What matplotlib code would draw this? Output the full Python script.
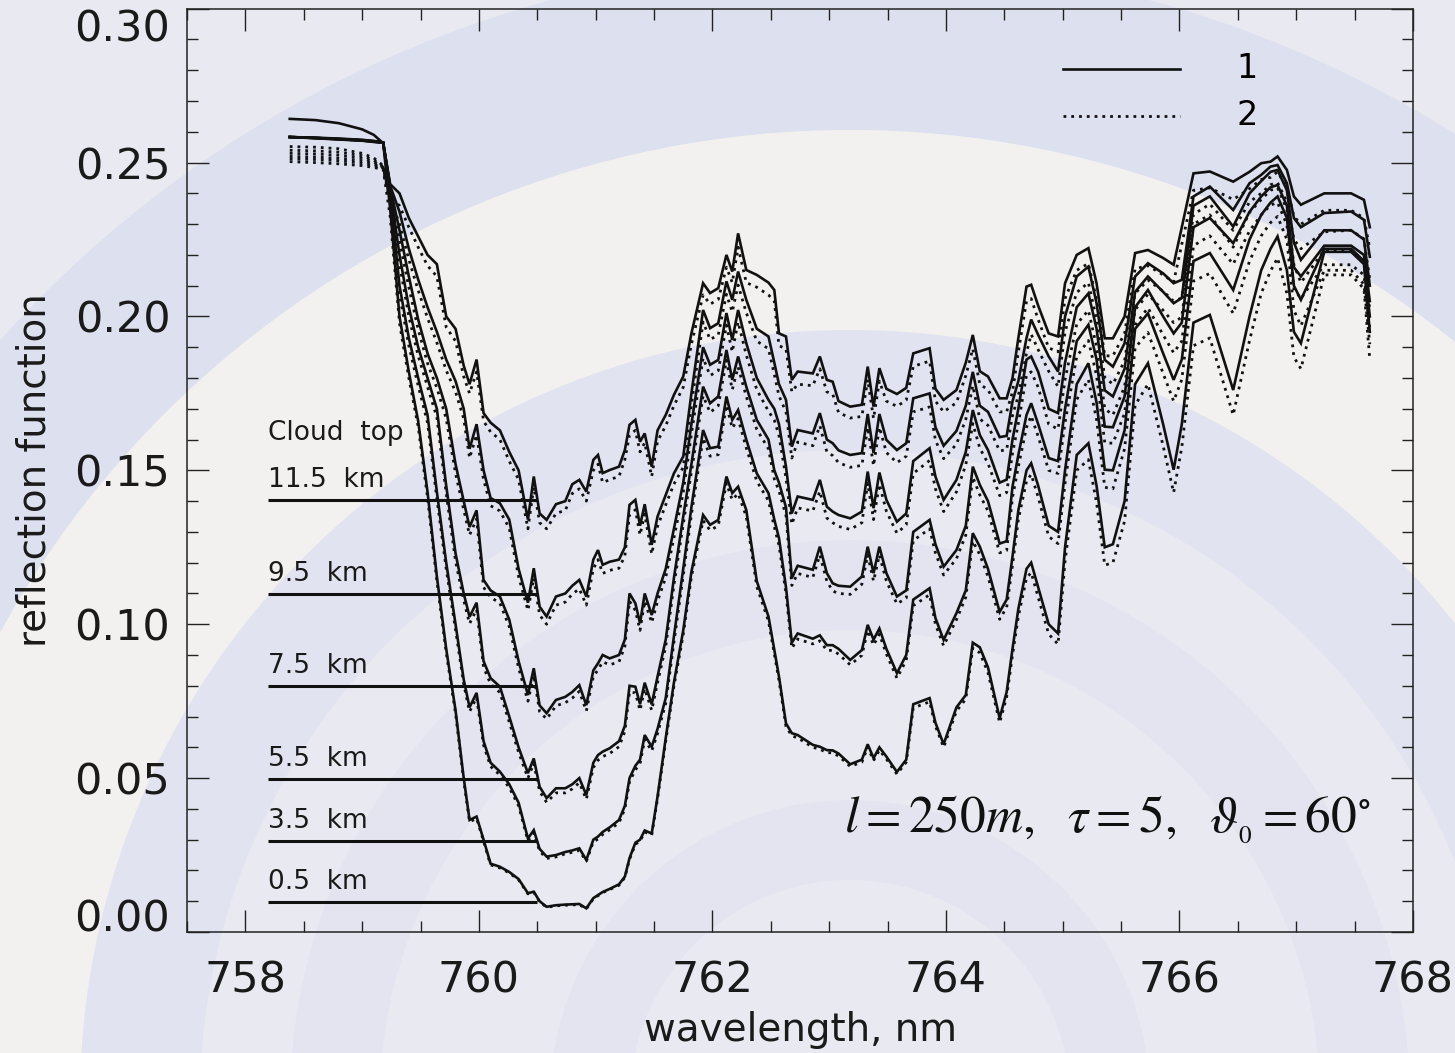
import matplotlib
matplotlib.use("Agg")
import matplotlib.pyplot as plt
from matplotlib.patches import Wedge
from matplotlib.ticker import MultipleLocator
import numpy as np

plt.rcParams["font.family"] = ["DejaVu Sans"]
plt.rcParams["mathtext.fontset"] = "stix"

# wavelength grid, nm
wavelength = [758.38, 758.60, 758.80, 759.00, 759.10, 759.18,
              759.24, 759.32, 759.40, 759.48, 759.56, 759.64, 759.72, 759.80, 759.87, 759.92, 759.98,
              760.04, 760.10, 760.18, 760.26, 760.34, 760.42, 760.47, 760.52, 760.58, 760.66,
              760.74, 760.80, 760.86, 760.92, 760.98, 761.02, 761.06, 761.12, 761.20, 761.25,
              761.29, 761.34, 761.38, 761.42, 761.48, 761.53,
              761.60, 761.67, 761.75, 761.82, 761.92, 761.98, 762.05, 762.12, 762.17, 762.22, 762.29,
              762.38, 762.48, 762.53, 762.57, 762.63, 762.68, 762.73, 762.86, 762.92, 762.98,
              763.03, 763.08, 763.18, 763.28, 763.33, 763.38, 763.43, 763.49, 763.58, 763.66, 763.72,
              763.86, 763.91, 763.98, 764.09, 764.17, 764.23, 764.29, 764.36, 764.46, 764.52, 764.57,
              764.62, 764.69, 764.73, 764.79, 764.88, 764.96, 765.02, 765.12, 765.22, 765.29, 765.36,
              765.43, 765.53, 765.62, 765.73, 765.86, 765.95, 766.02, 766.12, 766.26, 766.46, 766.60,
              766.70, 766.78, 766.84, 766.92, 766.98, 767.04, 767.24, 767.47, 767.58, 767.63]

# model 1 (solid), cloud top 11.5 / 9.5 / 7.5 / 5.5 / 3.5 / 0.5 km
sol_115 = [0.2642, 0.2638, 0.2628, 0.2608, 0.2590, 0.2563,
           0.2430, 0.2400, 0.2320, 0.2260, 0.2200, 0.2170, 0.2000, 0.1960, 0.1840, 0.1780, 0.1860,
           0.1686, 0.1655, 0.1630, 0.1560, 0.1500, 0.1340, 0.1480, 0.1360, 0.1339, 0.1390,
           0.1400, 0.1455, 0.1469, 0.1431, 0.1534, 0.1550, 0.1491, 0.1501, 0.1512, 0.1566,
           0.1648, 0.1664, 0.1593, 0.1620, 0.1512, 0.1630,
           0.1680, 0.1745, 0.1805, 0.1945, 0.2108, 0.2076, 0.2092, 0.2200, 0.2146, 0.2270, 0.2151,
           0.2135, 0.2110, 0.2086, 0.1945, 0.1935, 0.1794, 0.1821, 0.1815, 0.1870, 0.1794,
           0.1788, 0.1725, 0.1707, 0.1713, 0.1837, 0.1707, 0.1832, 0.1765, 0.1748, 0.1768, 0.1880,
           0.1897, 0.1765, 0.1729, 0.1761, 0.1850, 0.1940, 0.1822, 0.1805, 0.1734, 0.1734, 0.1800,
           0.1930, 0.2097, 0.2103, 0.2035, 0.1945, 0.1935, 0.2108, 0.2200, 0.2222, 0.2108, 0.1929,
           0.1929, 0.2000, 0.2206, 0.2216, 0.2190, 0.2168, 0.2290, 0.2465, 0.2471, 0.2438, 0.2470,
           0.2498, 0.2503, 0.2520, 0.2476, 0.2390, 0.2363, 0.2400, 0.2400, 0.2379, 0.2290]
sol_95 = [0.2583, 0.2581, 0.2578, 0.2574, 0.2570, 0.2565,
          0.2425, 0.2340, 0.2220, 0.2120, 0.2030, 0.1950, 0.1860, 0.1790, 0.1700, 0.1570, 0.1650,
          0.1500, 0.1410, 0.1393, 0.1340, 0.1180, 0.1070, 0.1182, 0.1057, 0.1025, 0.1090,
          0.1100, 0.1125, 0.1144, 0.1090, 0.1210, 0.1241, 0.1193, 0.1203, 0.1210, 0.1250,
          0.1388, 0.1404, 0.1320, 0.1390, 0.1258, 0.1350,
          0.1420, 0.1490, 0.1545, 0.1750, 0.2021, 0.1962, 0.1978, 0.2114, 0.2054, 0.2146, 0.2054,
          0.1960, 0.1935, 0.1850, 0.1780, 0.1729, 0.1577, 0.1631, 0.1620, 0.1686, 0.1600,
          0.1588, 0.1565, 0.1550, 0.1556, 0.1683, 0.1556, 0.1683, 0.1599, 0.1566, 0.1588, 0.1734,
          0.1750, 0.1640, 0.1580, 0.1628, 0.1710, 0.1820, 0.1710, 0.1690, 0.1608, 0.1612, 0.1724,
          0.1790, 0.1930, 0.1990, 0.1940, 0.1870, 0.1821, 0.2000, 0.2130, 0.2162, 0.2043, 0.1859,
          0.1837, 0.1913, 0.2130, 0.2173, 0.2140, 0.2108, 0.2119, 0.2390, 0.2422, 0.2346, 0.2433,
          0.2460, 0.2487, 0.2492, 0.2433, 0.2320, 0.2290, 0.2336, 0.2341, 0.2314, 0.2194]
sol_75 = [0.2583, 0.2580, 0.2577, 0.2573, 0.2570, 0.2565,
          0.2420, 0.2280, 0.2130, 0.1990, 0.1880, 0.1800, 0.1700, 0.1520, 0.1400, 0.1316, 0.1370,
          0.1144, 0.1110, 0.1090, 0.1015, 0.0880, 0.0770, 0.0857, 0.0736, 0.0711, 0.0754,
          0.0764, 0.0780, 0.0802, 0.0737, 0.0850, 0.0873, 0.0900, 0.0889, 0.0900, 0.0950,
          0.1100, 0.1068, 0.1003, 0.1100, 0.1030, 0.1100,
          0.1180, 0.1310, 0.1460, 0.1650, 0.1900, 0.1843, 0.1859, 0.2011, 0.1924, 0.2021, 0.1913,
          0.1800, 0.1729, 0.1700, 0.1650, 0.1512, 0.1360, 0.1415, 0.1404, 0.1469, 0.1382,
          0.1366, 0.1355, 0.1344, 0.1366, 0.1496, 0.1377, 0.1493, 0.1404, 0.1333, 0.1360, 0.1530,
          0.1572, 0.1480, 0.1404, 0.1469, 0.1560, 0.1696, 0.1615, 0.1566, 0.1460, 0.1470, 0.1600,
          0.1700, 0.1860, 0.1870, 0.1820, 0.1700, 0.1686, 0.1850, 0.2030, 0.2075, 0.1960, 0.1760,
          0.1740, 0.1830, 0.2080, 0.2130, 0.2080, 0.2043, 0.2060, 0.2360, 0.2390, 0.2292, 0.2400,
          0.2440, 0.2470, 0.2476, 0.2410, 0.2240, 0.2184, 0.2280, 0.2280, 0.2250, 0.2100]
sol_55 = [0.2583, 0.2580, 0.2576, 0.2572, 0.2568, 0.2565,
          0.2410, 0.2200, 0.2030, 0.1900, 0.1800, 0.1700, 0.1450, 0.1230, 0.1100, 0.1024, 0.1070,
          0.0880, 0.0825, 0.0797, 0.0700, 0.0600, 0.0516, 0.0564, 0.0472, 0.0435, 0.0467,
          0.0467, 0.0480, 0.0500, 0.0445, 0.0550, 0.0575, 0.0586, 0.0597, 0.0620, 0.0670,
          0.0800, 0.0797, 0.0740, 0.0810, 0.0740, 0.0830,
          0.0950, 0.1150, 0.1350, 0.1520, 0.1772, 0.1718, 0.1740, 0.1891, 0.1794, 0.1870, 0.1772,
          0.1664, 0.1600, 0.1500, 0.1460, 0.1380, 0.1150, 0.1190, 0.1177, 0.1252, 0.1166,
          0.1133, 0.1125, 0.1122, 0.1155, 0.1252, 0.1166, 0.1252, 0.1166, 0.1090, 0.1110, 0.1300,
          0.1339, 0.1260, 0.1187, 0.1241, 0.1320, 0.1512, 0.1453, 0.1400, 0.1262, 0.1270, 0.1447,
          0.1550, 0.1680, 0.1718, 0.1650, 0.1540, 0.1530, 0.1700, 0.1920, 0.1973, 0.1860, 0.1642,
          0.1640, 0.1740, 0.2030, 0.2086, 0.2000, 0.1945, 0.1980, 0.2290, 0.2320, 0.2238, 0.2340,
          0.2390, 0.2420, 0.2427, 0.2360, 0.2160, 0.2130, 0.2230, 0.2230, 0.2200, 0.2050]
sol_35 = [0.2583, 0.2580, 0.2576, 0.2572, 0.2568, 0.2565,
          0.2400, 0.2100, 0.1930, 0.1800, 0.1680, 0.1430, 0.1200, 0.1000, 0.0820, 0.0730, 0.0777,
          0.0620, 0.0550, 0.0521, 0.0480, 0.0420, 0.0304, 0.0331, 0.0270, 0.0245, 0.0250,
          0.0260, 0.0265, 0.0272, 0.0234, 0.0300, 0.0310, 0.0325, 0.0340, 0.0364, 0.0410,
          0.0500, 0.0540, 0.0560, 0.0640, 0.0602, 0.0660,
          0.0760, 0.0960, 0.1180, 0.1380, 0.1631, 0.1572, 0.1577, 0.1740, 0.1664, 0.1696, 0.1600,
          0.1490, 0.1426, 0.1340, 0.1280, 0.1120, 0.0940, 0.0970, 0.0953, 0.0964, 0.0932,
          0.0932, 0.0920, 0.0884, 0.0916, 0.0998, 0.0950, 0.0986, 0.0920, 0.0841, 0.0900, 0.1080,
          0.1117, 0.1020, 0.0949, 0.1036, 0.1110, 0.1296, 0.1252, 0.1180, 0.1040, 0.1080, 0.1220,
          0.1370, 0.1500, 0.1523, 0.1450, 0.1320, 0.1300, 0.1500, 0.1780, 0.1848, 0.1720, 0.1502,
          0.1500, 0.1630, 0.1960, 0.2010, 0.1880, 0.1794, 0.1860, 0.2180, 0.2206, 0.2086, 0.2250,
          0.2330, 0.2370, 0.2390, 0.2320, 0.2100, 0.2054, 0.2220, 0.2220, 0.2180, 0.2000]
sol_05 = [0.2583, 0.2579, 0.2575, 0.2571, 0.2567, 0.2565,
          0.2350, 0.2000, 0.1820, 0.1660, 0.1430, 0.1155, 0.0920, 0.0720, 0.0500, 0.0364, 0.0375,
          0.0300, 0.0222, 0.0212, 0.0195, 0.0172, 0.0126, 0.0131, 0.0100, 0.0082, 0.0087,
          0.0089, 0.0090, 0.0091, 0.0077, 0.0110, 0.0120, 0.0130, 0.0140, 0.0155, 0.0180,
          0.0240, 0.0290, 0.0300, 0.0330, 0.0320, 0.0440,
          0.0630, 0.0810, 0.0980, 0.1170, 0.1355, 0.1323, 0.1339, 0.1480, 0.1426, 0.1447, 0.1371,
          0.1140, 0.1025, 0.0917, 0.0830, 0.0678, 0.0646, 0.0640, 0.0608, 0.0602, 0.0591,
          0.0590, 0.0580, 0.0545, 0.0560, 0.0610, 0.0565, 0.0600, 0.0570, 0.0520, 0.0560, 0.0740,
          0.0760, 0.0680, 0.0610, 0.0730, 0.0770, 0.0940, 0.0925, 0.0860, 0.0695, 0.0780, 0.0920,
          0.1050, 0.1180, 0.1200, 0.1120, 0.1000, 0.0970, 0.1250, 0.1550, 0.1588, 0.1450, 0.1250,
          0.1260, 0.1400, 0.1780, 0.1848, 0.1650, 0.1502, 0.1650, 0.1980, 0.2005, 0.1761, 0.2000,
          0.2150, 0.2220, 0.2260, 0.2150, 0.1950, 0.1913, 0.2210, 0.2210, 0.2170, 0.1950]

# model 2 (dotted), same cloud tops
dot_115 = [0.2552, 0.2550, 0.2545, 0.2530, 0.2515, 0.2490,
           0.2390, 0.2360, 0.2290, 0.2225, 0.2165, 0.2130, 0.1965, 0.1920, 0.1805, 0.1750, 0.1820,
           0.1660, 0.1625, 0.1600, 0.1530, 0.1470, 0.1310, 0.1445, 0.1330, 0.1310, 0.1360,
           0.1370, 0.1425, 0.1440, 0.1400, 0.1500, 0.1520, 0.1460, 0.1470, 0.1480, 0.1535,
           0.1615, 0.1630, 0.1560, 0.1590, 0.1480, 0.1595,
           0.1645, 0.1710, 0.1770, 0.1910, 0.2070, 0.2040, 0.2055, 0.2160, 0.2110, 0.2225, 0.2110,
           0.2095, 0.2070, 0.2050, 0.1905, 0.1895, 0.1755, 0.1780, 0.1775, 0.1830, 0.1755,
           0.1748, 0.1688, 0.1670, 0.1675, 0.1795, 0.1668, 0.1790, 0.1725, 0.1708, 0.1728, 0.1838,
           0.1855, 0.1725, 0.1690, 0.1720, 0.1808, 0.1895, 0.1780, 0.1762, 0.1690, 0.1690, 0.1755,
           0.1885, 0.2050, 0.2058, 0.1990, 0.1898, 0.1885, 0.2058, 0.2150, 0.2172, 0.2055, 0.1872,
           0.1872, 0.1945, 0.2155, 0.2165, 0.2135, 0.2112, 0.2235, 0.2410, 0.2418, 0.2380, 0.2415,
           0.2445, 0.2452, 0.2470, 0.2420, 0.2325, 0.2300, 0.2345, 0.2345, 0.2320, 0.2220]
dot_95 = [0.2540, 0.2538, 0.2534, 0.2522, 0.2508, 0.2486,
          0.2385, 0.2300, 0.2185, 0.2085, 0.1995, 0.1915, 0.1825, 0.1755, 0.1668, 0.1540, 0.1615,
          0.1470, 0.1385, 0.1368, 0.1312, 0.1155, 0.1045, 0.1150, 0.1030, 0.1000, 0.1062,
          0.1072, 0.1098, 0.1115, 0.1062, 0.1180, 0.1210, 0.1165, 0.1175, 0.1182, 0.1222,
          0.1355, 0.1372, 0.1290, 0.1358, 0.1228, 0.1318,
          0.1388, 0.1455, 0.1510, 0.1712, 0.1982, 0.1925, 0.1940, 0.2072, 0.2015, 0.2102, 0.2012,
          0.1920, 0.1895, 0.1812, 0.1742, 0.1690, 0.1540, 0.1592, 0.1580, 0.1645, 0.1560,
          0.1548, 0.1525, 0.1510, 0.1516, 0.1640, 0.1515, 0.1640, 0.1558, 0.1525, 0.1546, 0.1690,
          0.1706, 0.1598, 0.1538, 0.1585, 0.1666, 0.1775, 0.1667, 0.1646, 0.1563, 0.1567, 0.1678,
          0.1743, 0.1882, 0.1942, 0.1892, 0.1822, 0.1772, 0.1950, 0.2078, 0.2110, 0.1990, 0.1802,
          0.1780, 0.1856, 0.2075, 0.2118, 0.2082, 0.2050, 0.2060, 0.2332, 0.2365, 0.2280, 0.2372,
          0.2400, 0.2428, 0.2435, 0.2372, 0.2250, 0.2220, 0.2275, 0.2280, 0.2252, 0.2120]
dot_75 = [0.2530, 0.2528, 0.2524, 0.2514, 0.2502, 0.2484,
          0.2385, 0.2245, 0.2095, 0.1958, 0.1848, 0.1768, 0.1668, 0.1490, 0.1372, 0.1290, 0.1342,
          0.1120, 0.1088, 0.1068, 0.0992, 0.0858, 0.0750, 0.0835, 0.0716, 0.0692, 0.0735,
          0.0745, 0.0760, 0.0782, 0.0718, 0.0830, 0.0852, 0.0878, 0.0868, 0.0878, 0.0928,
          0.1075, 0.1045, 0.0980, 0.1075, 0.1005, 0.1075,
          0.1152, 0.1280, 0.1428, 0.1618, 0.1865, 0.1808, 0.1824, 0.1972, 0.1885, 0.1982, 0.1875,
          0.1762, 0.1692, 0.1663, 0.1613, 0.1475, 0.1325, 0.1378, 0.1368, 0.1432, 0.1345,
          0.1330, 0.1318, 0.1308, 0.1330, 0.1458, 0.1340, 0.1455, 0.1367, 0.1296, 0.1323, 0.1490,
          0.1532, 0.1440, 0.1366, 0.1430, 0.1518, 0.1652, 0.1572, 0.1523, 0.1418, 0.1428, 0.1555,
          0.1652, 0.1810, 0.1820, 0.1770, 0.1650, 0.1634, 0.1795, 0.1975, 0.2020, 0.1902, 0.1700,
          0.1680, 0.1772, 0.2022, 0.2072, 0.2020, 0.1980, 0.1998, 0.2300, 0.2330, 0.2225, 0.2338,
          0.2380, 0.2410, 0.2418, 0.2348, 0.2168, 0.2110, 0.2215, 0.2215, 0.2182, 0.2020]
dot_55 = [0.2520, 0.2518, 0.2514, 0.2506, 0.2496, 0.2482,
          0.2375, 0.2170, 0.2000, 0.1872, 0.1772, 0.1672, 0.1425, 0.1205, 0.1078, 0.1002, 0.1048,
          0.0860, 0.0806, 0.0778, 0.0682, 0.0584, 0.0500, 0.0548, 0.0457, 0.0421, 0.0452,
          0.0452, 0.0465, 0.0485, 0.0431, 0.0534, 0.0558, 0.0570, 0.0580, 0.0602, 0.0652,
          0.0780, 0.0777, 0.0720, 0.0790, 0.0720, 0.0810,
          0.0928, 0.1126, 0.1325, 0.1494, 0.1742, 0.1688, 0.1710, 0.1858, 0.1762, 0.1836, 0.1740,
          0.1633, 0.1570, 0.1472, 0.1433, 0.1353, 0.1126, 0.1165, 0.1152, 0.1225, 0.1140,
          0.1108, 0.1100, 0.1097, 0.1130, 0.1225, 0.1140, 0.1225, 0.1140, 0.1066, 0.1085, 0.1272,
          0.1310, 0.1232, 0.1160, 0.1213, 0.1290, 0.1478, 0.1420, 0.1368, 0.1232, 0.1240, 0.1412,
          0.1512, 0.1640, 0.1677, 0.1610, 0.1500, 0.1490, 0.1655, 0.1870, 0.1922, 0.1808, 0.1590,
          0.1588, 0.1685, 0.1972, 0.2028, 0.1940, 0.1882, 0.1920, 0.2230, 0.2262, 0.2170, 0.2278,
          0.2330, 0.2362, 0.2370, 0.2298, 0.2090, 0.2058, 0.2168, 0.2168, 0.2135, 0.1960]
dot_35 = [0.2512, 0.2510, 0.2506, 0.2498, 0.2490, 0.2480,
          0.2368, 0.2072, 0.1905, 0.1775, 0.1655, 0.1408, 0.1180, 0.0982, 0.0805, 0.0716, 0.0762,
          0.0607, 0.0538, 0.0510, 0.0469, 0.0410, 0.0296, 0.0322, 0.0263, 0.0239, 0.0244,
          0.0254, 0.0259, 0.0265, 0.0229, 0.0293, 0.0302, 0.0317, 0.0332, 0.0355, 0.0400,
          0.0488, 0.0527, 0.0547, 0.0625, 0.0588, 0.0645,
          0.0743, 0.0940, 0.1158, 0.1356, 0.1605, 0.1546, 0.1551, 0.1712, 0.1637, 0.1668, 0.1573,
          0.1465, 0.1401, 0.1316, 0.1257, 0.1100, 0.0922, 0.0952, 0.0936, 0.0946, 0.0915,
          0.0915, 0.0903, 0.0868, 0.0899, 0.0980, 0.0932, 0.0968, 0.0903, 0.0825, 0.0883, 0.1060,
          0.1096, 0.1000, 0.0930, 0.1015, 0.1088, 0.1270, 0.1226, 0.1155, 0.1016, 0.1055, 0.1192,
          0.1340, 0.1465, 0.1487, 0.1413, 0.1285, 0.1262, 0.1458, 0.1730, 0.1795, 0.1665, 0.1445,
          0.1440, 0.1570, 0.1898, 0.1948, 0.1815, 0.1725, 0.1795, 0.2115, 0.2140, 0.2010, 0.2180,
          0.2262, 0.2305, 0.2325, 0.2250, 0.2020, 0.1970, 0.2150, 0.2150, 0.2105, 0.1910]
dot_05 = [0.2503, 0.2500, 0.2496, 0.2490, 0.2484, 0.2478,
          0.2325, 0.1978, 0.1800, 0.1642, 0.1412, 0.1140, 0.0908, 0.0710, 0.0492, 0.0358, 0.0369,
          0.0295, 0.0218, 0.0208, 0.0192, 0.0169, 0.0124, 0.0129, 0.0098, 0.0080, 0.0085,
          0.0087, 0.0088, 0.0089, 0.0075, 0.0108, 0.0118, 0.0128, 0.0138, 0.0152, 0.0177,
          0.0236, 0.0285, 0.0295, 0.0325, 0.0315, 0.0433,
          0.0620, 0.0798, 0.0966, 0.1154, 0.1337, 0.1305, 0.1320, 0.1458, 0.1404, 0.1425, 0.1350,
          0.1122, 0.1010, 0.0904, 0.0818, 0.0668, 0.0637, 0.0631, 0.0600, 0.0594, 0.0583,
          0.0582, 0.0572, 0.0538, 0.0552, 0.0601, 0.0557, 0.0591, 0.0562, 0.0513, 0.0552, 0.0728,
          0.0748, 0.0669, 0.0600, 0.0718, 0.0757, 0.0922, 0.0907, 0.0843, 0.0680, 0.0764, 0.0900,
          0.1025, 0.1150, 0.1168, 0.1088, 0.0968, 0.0935, 0.1205, 0.1500, 0.1535, 0.1395, 0.1192,
          0.1200, 0.1335, 0.1712, 0.1780, 0.1580, 0.1428, 0.1575, 0.1905, 0.1930, 0.1680, 0.1922,
          0.2075, 0.2148, 0.2190, 0.2075, 0.1868, 0.1830, 0.2135, 0.2135, 0.2090, 0.1860]

# cloud-top key on the left
cloud_tops = ["11.5  km", "9.5  km", "7.5  km", "5.5  km", "3.5  km", "0.5  km"]
key_levels = [0.1404, 0.1098, 0.0800, 0.0497, 0.0296, 0.0098]
key_span = (758.19, 760.50)

solid_curves = [sol_115, sol_95, sol_75, sol_55, sol_35, sol_05]
dotted_curves = [dot_115, dot_95, dot_75, dot_55, dot_35, dot_05]

fig = plt.figure(figsize=(14.55, 10.53), dpi=100)
fig.patch.set_facecolor("#e9eaf1")

# soft arcs in the backdrop
bg = fig.add_axes([0, 0, 1, 1], zorder=-5)
bg.set_xlim(0, 1455)
bg.set_ylim(1053, 0)
bg.axis("off")
for r, w, c, a in [(1140, 170, "#cdd1ee", 0.40),
                   (970, 200, "#f6f4ef", 0.70),
                   (770, 120, "#d3d6ef", 0.35),
                   (560, 90, "#d6d9f0", 0.30),
                   (300, 80, "#d6d8ee", 0.30)]:
    bg.add_patch(Wedge((850, 1100), r, 180, 360, width=w, facecolor=c, edgecolor="none", alpha=a))

ax = fig.add_axes([0.12852, 0.11491, 0.84261, 0.87683])
ax.set_facecolor("none")

for curve in dotted_curves:
    ax.plot(wavelength, curve, color="#111111", lw=2.0, linestyle=(0, (1, 1.8)),
            dash_capstyle="butt", solid_joinstyle="miter")
for curve in solid_curves:
    ax.plot(wavelength, curve, color="#111111", lw=1.9, solid_joinstyle="miter")

ax.text(key_span[0], 0.1620, "Cloud  top", fontsize=19, va="center", ha="left", color="#1a1a1a")
for name, lev in zip(cloud_tops, key_levels):
    ax.plot(key_span, [lev, lev], color="#111111", lw=2.2, solid_capstyle="butt")
    ax.text(key_span[0], lev + 0.0022, name, fontsize=19, va="bottom", ha="left", color="#1a1a1a")

# legend drawn by hand in the upper right
ax.plot([0.7145, 0.81], [0.9347, 0.9347], transform=ax.transAxes, color="#111111", lw=1.9)
ax.plot([0.7145, 0.81], [0.8838, 0.8838], transform=ax.transAxes, color="#111111", lw=2.0,
        linestyle=(0, (1, 1.8)), dash_capstyle="butt")
ax.text(0.8646, 0.9347, "1", transform=ax.transAxes, fontsize=24, ha="center", va="center")
ax.text(0.8646, 0.8838, "2", transform=ax.transAxes, fontsize=24, ha="center", va="center")

ax.text(765.38, 0.0364, r"$l = 250m,\ \ \tau = 5,\ \ \vartheta_{_0} = 60^{\circ}$",
        fontsize=37, ha="center", va="center", color="#111111")

ax.set_xlim(757.5, 768)
ax.set_ylim(0, 0.30)
ax.set_xticks([758, 760, 762, 764, 766, 768])
ax.xaxis.set_minor_locator(MultipleLocator(0.5))
ax.set_yticks([0.0, 0.05, 0.10, 0.15, 0.20, 0.25, 0.30])
ax.set_yticklabels(["0.00", "0.05", "0.10", "0.15", "0.20", "0.25", "0.30"])
ax.yaxis.set_minor_locator(MultipleLocator(0.01))
ax.tick_params(which="both", direction="in", top=True, right=True, color="#222222", width=1.0)
ax.tick_params(which="major", length=16)
ax.tick_params(which="minor", length=8)
ax.tick_params(axis="x", which="major", labelsize=31, pad=20, labelcolor="#1a1a1a")
ax.tick_params(axis="y", which="major", labelsize=31, pad=12, labelcolor="#1a1a1a")
for s in ax.spines.values():
    s.set_color("#222222")
    s.set_linewidth(1.1)

yt = ax.yaxis.get_major_ticks()
yt[0].label1.set_va("baseline")
yt[-1].label1.set_va("top")

fig.text(0.024, 0.5536, "reflection function", rotation=90, fontsize=28,
         ha="center", va="center", color="#1a1a1a")
fig.text(0.55, 0.022, "wavelength, nm", fontsize=28, ha="center", va="center", color="#1a1a1a")

fig.savefig("out.png", dpi=100, facecolor=fig.get_facecolor())
